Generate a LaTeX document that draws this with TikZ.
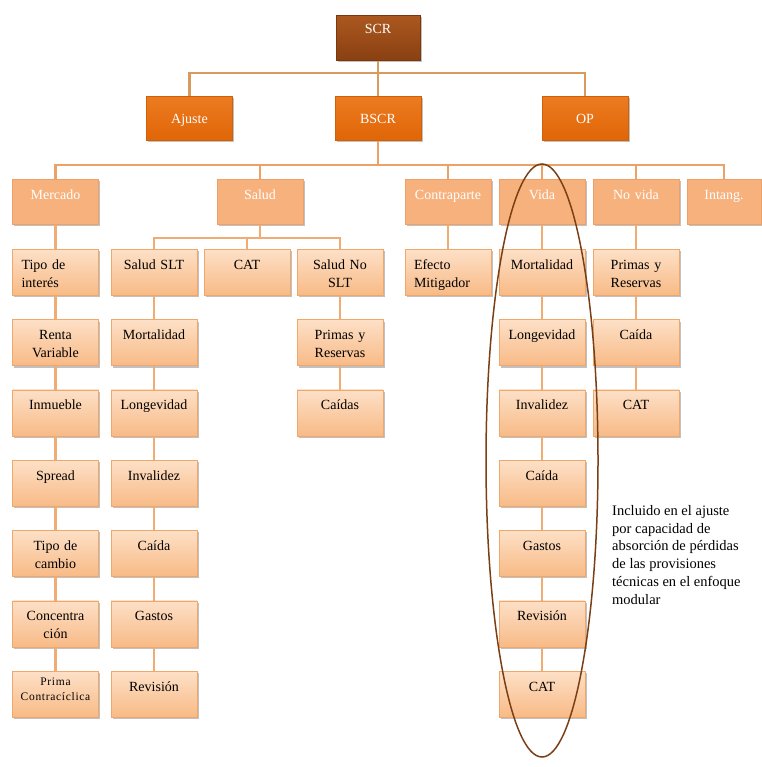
\documentclass[tikz,border=0pt]{standalone}
\usepackage{fontspec}
\setmainfont{Liberation Serif}
\usetikzlibrary{shadows,shapes.geometric}
\definecolor{colZa}{HTML}{AB581F}
\definecolor{colZb}{HTML}{8A4012}
\definecolor{colZd}{HTML}{7A380F}
\definecolor{colOa}{HTML}{EC7B20}
\definecolor{colOb}{HTML}{E06607}
\definecolor{colOd}{HTML}{D0600A}
\definecolor{colT}{HTML}{F7B17D}
\definecolor{colTd}{HTML}{EDA06A}
\definecolor{colLa}{HTML}{F8BA86}
\definecolor{colLb}{HTML}{FDE0C7}
\definecolor{colLd}{HTML}{EFA86C}
\definecolor{lnA}{HTML}{D99A60}
\definecolor{lnB}{HTML}{ECA267}
\definecolor{lnC}{HTML}{F0AC72}
\definecolor{oval}{HTML}{7B3F16}
\begin{document}
\begin{tikzpicture}[x=1pt,y=1pt,
  shad/.style={drop shadow={shadow xshift=1.5pt,shadow yshift=-2pt,opacity=0.35,fill=black!70}},
  basebox/.style={rectangle,anchor=north,inner xsep=2pt,inner ysep=0pt,text width=82pt,align=center,
    font=\fontsize{14}{18}\selectfont,shad},
  lvlzero/.style={basebox,text width=80pt,text height=18pt,text depth=27pt,top color=colZa,bottom color=colZb,draw=colZd,line width=0.6pt,text=white},
  lvlone/.style={basebox,text height=27pt,text depth=17pt,top color=colOa,bottom color=colOb,draw=colOd,line width=0.6pt,text=white},
  lvltwo/.style={basebox,text height=20pt,text depth=25pt,fill=colT,draw=colTd,line width=0.6pt,text=white},
  lvlthree/.style={basebox,text height=20pt,text depth=26pt,top color=colLb,bottom color=colLa,draw=colLd,line width=0.6pt,text=black},
  lefttext/.style={inner xsep=9pt,text width=68pt,align=left},
  linkA/.style={draw=lnA,line width=2.8pt},
  linkB/.style={draw=lnB,line width=2.8pt},
  linkC/.style={draw=lnC,line width=2.8pt}]
\useasboundingbox (0,0) rectangle (761,-767);

% level 0 and 1
\node[lvlzero] (scr) at (378,-15) {SCR};
\node[lvlone] (ajuste) at (189.5,-96) {Ajuste};
\node[lvlone] (bscr) at (378,-96) {BSCR};
\node[lvlone] (op) at (585,-96) {OP};

% level 2
\node[lvltwo] (mercado) at (55.5,-179) {Mercado};
\node[lvltwo] (salud) at (260,-179) {Salud};
\node[lvltwo] (contra) at (448,-179) {Contraparte};
\node[lvltwo] (vida) at (542,-179) {Vida};
\node[lvltwo] (novida) at (636,-179) {No vida};
\node[lvltwo,text width=70pt] (intang) at (724,-179) {Intang.};

% Mercado column
\node[lvlthree,lefttext] (m1) at (55.5,-249) {Tipo de\\interés};
\node[lvlthree] (m2) at (55.5,-319.3) {Renta\\Variable};
\node[lvlthree] (m3) at (55.5,-389.6) {Inmueble};
\node[lvlthree] (m4) at (55.5,-460) {Spread};
\node[lvlthree] (m5) at (55.5,-530) {Tipo de\\cambio};
\node[lvlthree] (m6) at (55.5,-600.5) {Concentra\\ción};
\node[lvlthree,text height=14pt,text depth=32pt,font=\fontsize{11.5}{15}\selectfont\addfontfeature{LetterSpace=6}] (m7) at (55.5,-671) {Prima\\Contracíclica};

% Salud SLT column
\node[lvlthree] (s1) at (154,-249) {Salud SLT};
\node[lvlthree] (s2) at (154,-319.3) {Mortalidad};
\node[lvlthree] (s3) at (154,-389.6) {Longevidad};
\node[lvlthree] (s4) at (154,-460) {Invalidez};
\node[lvlthree] (s5) at (154,-530) {Caída};
\node[lvlthree] (s6) at (154,-600.5) {Gastos};
\node[lvlthree] (s7) at (154,-671) {Revisión};

% CAT
\node[lvlthree] (cat) at (247,-249) {CAT};

% Salud No SLT column
\node[lvlthree] (n1) at (340,-249) {Salud No\\SLT};
\node[lvlthree] (n2) at (340,-319.3) {Primas y\\Reservas};
\node[lvlthree] (n3) at (340,-389.6) {Caídas};

% Contraparte
\node[lvlthree,lefttext] (e1) at (448,-249) {Efecto\\Mitigador};

% Vida column
\node[lvlthree] (v1) at (542,-249) {Mortalidad};
\node[lvlthree] (v2) at (542,-319.3) {Longevidad};
\node[lvlthree] (v3) at (542,-389.6) {Invalidez};
\node[lvlthree] (v4) at (542,-460) {Caída};
\node[lvlthree] (v5) at (542,-530) {Gastos};
\node[lvlthree] (v6) at (542,-600.5) {Revisión};
\node[lvlthree] (v7) at (542,-671) {CAT};

% No vida column
\node[lvlthree] (nv1) at (636,-249) {Primas y\\Reservas};
\node[lvlthree] (nv2) at (636,-319.3) {Caída};
\node[lvlthree] (nv3) at (636,-389.6) {CAT};

% connectors level 0-1
\coordinate (ja) at (378,-73);
\draw[linkA] (scr.south) -- (bscr.north);
\draw[linkA] (ajuste.north) |- (ja) -| (op.north);

% connectors level 1-2
\coordinate (jb) at (378,-165);
\draw[linkB] (bscr.south) -- (jb);
\draw[linkB] (mercado.north) |- (jb) -| (intang.north);
\foreach \n in {salud,contra,vida,novida}
  \draw[linkB] (\n.north) -- (\n.north |- jb);

% Salud split
\coordinate (jc) at (260,-238);
\draw[linkC] (salud.south) -- (jc);
\draw[linkC] (s1.north) |- (jc) -| (n1.north);
\draw[linkC] (cat.north) -- (cat.north |- jc);

% columns
\draw[linkC] (mercado.south) -- (m1.north);
\foreach \a/\b in {m1/m2,m2/m3,m3/m4,m4/m5,m5/m6,m6/m7,
                   s1/s2,s2/s3,s3/s4,s4/s5,s5/s6,s6/s7,
                   n1/n2,n2/n3,
                   v1/v2,v2/v3,v3/v4,v4/v5,v5/v6,v6/v7,
                   nv1/nv2,nv2/nv3}
  \draw[linkC] (\a.south) -- (\b.north);
\draw[linkC] (contra.south) -- (e1.north);
\draw[linkC] (vida.south) -- (v1.north);
\draw[linkC] (novida.south) -- (nv1.north);

% oval and note
\node[draw=oval,line width=1.5pt,ellipse,minimum width=112pt,minimum height=593pt,inner sep=0pt] (ring) at (542,-460.5) {};
\node[anchor=north west,align=left,inner sep=0pt,font=\fontsize{14.5}{17.8}\selectfont] (note) at (612,-505)
  {Incluido en el ajuste\\por capacidad de\\absorción de pérdidas\\de las provisiones\\técnicas en el enfoque\\modular};
\end{tikzpicture}
\end{document}
